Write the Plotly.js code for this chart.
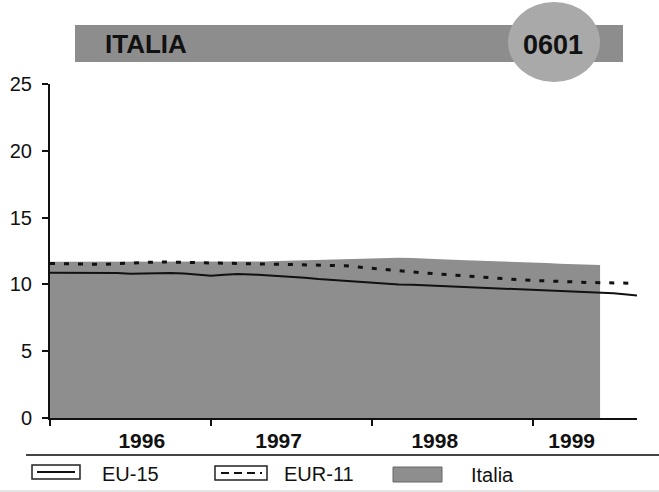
<!DOCTYPE html>
<html>
<head>
<meta charset="utf-8">
<script src="https://cdn.plot.ly/plotly-3.0.1.min.js"></script>
<style>html,body{margin:0;padding:0;background:#fff;}#chart{width:659px;height:492px;}</style>
</head>
<body>
<div id="chart"></div>
<script>
// ---- data ----
const chartTitle = "ITALIA";
const chartCode = "0601";
const startYear = 1996;
const yearTicks = [1996, 1997, 1998, 1999];
const yearLabels = ["1996", "1997", "1998", "1999"];
const yearLabelPos = [1996.57, 1997.42, 1998.39, 1999.24];
const seriesNames = ["EU-15", "EUR-11", "Italia"];
// monthly values from Jan 1996
const eu15 = [10.88,10.88,10.9,10.9,10.88,10.85,10.8,10.82,10.88,10.85,10.82,10.75,
              10.65,10.72,10.78,10.75,10.7,10.65,10.6,10.5,10.4,10.33,10.25,10.18,
              10.12,10.05,10.0,9.97,9.93,9.88,9.85,9.8,9.75,9.7,9.66,9.62,
              9.58,9.53,9.49,9.45,9.42,9.38,9.33,9.25,9.15];
const eur11 = [11.57,11.55,11.55,11.52,11.5,11.55,11.6,11.65,11.68,11.67,11.65,11.63,
               11.62,11.6,11.58,11.57,11.55,11.53,11.52,11.5,11.47,11.45,11.4,11.3,
               11.2,11.1,11.0,10.93,10.85,10.78,10.7,10.62,10.55,10.47,10.4,10.35,
               10.3,10.25,10.2,10.17,10.15,10.13,10.12,10.1,10.08];
const italia = [11.7,11.7,11.68,11.68,11.7,11.72,11.72,11.7,11.7,11.72,11.72,11.7,
                11.7,11.72,11.72,11.7,11.72,11.75,11.78,11.8,11.82,11.85,11.88,11.9,
                11.95,11.98,12.0,11.98,11.95,11.9,11.85,11.8,11.77,11.75,11.72,11.7,
                11.65,11.6,11.55,11.5,11.47,11.45];

const monthX = arr => arr.map((_, i) => startYear + i / 12);

// ---- geometry helpers (pixel -> paper) ----
const W = 659, H = 492, L = 50, R = 22, T = 84, B = 74;
const pw = W - L - R, ph = H - T - B;
const px = x => (x - L) / pw;
const py = y => (H - B - y) / ph;
const xEnd = startYear + pw / 161;

const font = "Liberation Sans, Arial, sans-serif";
const ink = "#111";

const traces = [
  {x: monthX(italia), y: italia, name: seriesNames[2], type: "scatter", mode: "lines",
   fill: "tozeroy", fillcolor: "#8e8e8e", line: {width: 0, color: "#8e8e8e"},
   xaxis: "x", yaxis: "y", hoverinfo: "skip"},
  {x: monthX(eur11), y: eur11, name: seriesNames[1], type: "scatter", mode: "lines",
   line: {color: "#111", width: 3, dash: "5px,9px"}, xaxis: "x2", yaxis: "y"},
  {x: monthX(eu15), y: eu15, name: seriesNames[0], type: "scatter", mode: "lines",
   line: {color: "#111", width: 2}, xaxis: "x2", yaxis: "y"}
];

const shapes = [
  // header banner
  {type: "rect", xref: "paper", yref: "paper", x0: px(75), x1: px(623), y0: py(62), y1: py(25),
   fillcolor: "#8d8d8d", line: {width: 0}, layer: "above"},
  {type: "circle", xref: "paper", yref: "paper", x0: px(508), x1: px(600), y0: py(82), y1: py(2),
   fillcolor: "#a9a9a9", line: {width: 0}, layer: "above"},
  // separator lines
  {type: "line", xref: "paper", yref: "paper", x0: px(26), x1: px(659), y0: py(455), y1: py(455),
   line: {color: "#444", width: 2}},
  {type: "line", xref: "paper", yref: "paper", x0: px(0), x1: px(659), y0: py(491), y1: py(491),
   line: {color: "#e4e4e4", width: 2}},
  // legend keys
  {type: "rect", xref: "paper", yref: "paper", x0: px(32), x1: px(80), y0: py(479), y1: py(465),
   fillcolor: "#fff", line: {color: "#222", width: 1.5}},
  {type: "line", xref: "paper", yref: "paper", x0: px(37), x1: px(75), y0: py(472), y1: py(472),
   line: {color: "#111", width: 2}},
  {type: "rect", xref: "paper", yref: "paper", x0: px(215), x1: px(267), y0: py(480), y1: py(466),
   fillcolor: "#fff", line: {color: "#222", width: 1.5}},
  {type: "line", xref: "paper", yref: "paper", x0: px(221), x1: px(262), y0: py(473), y1: py(473),
   line: {color: "#111", width: 2, dash: "8px,5px"}},
  {type: "rect", xref: "paper", yref: "paper", x0: px(393), x1: px(442), y0: py(482), y1: py(467),
   fillcolor: "#8e8e8e", line: {color: "#666", width: 1}}
];

const annotations = [
  {text: chartTitle, xref: "paper", yref: "paper", x: px(103), y: py(44), xanchor: "left", yanchor: "middle",
   showarrow: false, font: {family: font, size: 26, color: ink, weight: "bold"}},
  {text: chartCode, xref: "paper", yref: "paper", x: px(553), y: py(45), xanchor: "center", yanchor: "middle",
   showarrow: false, font: {family: font, size: 27, color: ink, weight: "bold"}},
  {text: seriesNames[0], xref: "paper", yref: "paper", x: px(100), y: py(474), xanchor: "left", yanchor: "middle",
   showarrow: false, font: {family: font, size: 20, color: ink}},
  {text: seriesNames[1], xref: "paper", yref: "paper", x: px(282), y: py(474), xanchor: "left", yanchor: "middle",
   showarrow: false, font: {family: font, size: 20, color: ink}},
  {text: seriesNames[2], xref: "paper", yref: "paper", x: px(469), y: py(475), xanchor: "left", yanchor: "middle",
   showarrow: false, font: {family: font, size: 20, color: ink}}
];

const layout = {
  width: W, height: H,
  margin: {l: L, r: R, t: T, b: B, pad: 0},
  paper_bgcolor: "#fff", plot_bgcolor: "#fff",
  showlegend: false,
  font: {family: font, color: ink},
  xaxis: {range: [startYear, xEnd], tickvals: yearTicks, showticklabels: false,
          ticks: "outside", ticklen: 6, tickwidth: 2, tickcolor: "#111",
          showline: true, linecolor: "#111", linewidth: 2, showgrid: false, zeroline: false, fixedrange: true},
  xaxis2: {range: [startYear, xEnd], overlaying: "x", anchor: "y", side: "bottom",
           tickvals: yearLabelPos, ticktext: yearLabels, ticks: "", showline: false, showgrid: false,
           zeroline: false, ticklabelstandoff: 8,
           tickfont: {family: font, size: 21, color: ink, weight: "bold"}, fixedrange: true},
  yaxis: {range: [0, 25], tickvals: [0, 5, 10, 15, 20, 25], ticks: "outside", ticklen: 6, tickwidth: 2,
          tickcolor: "#111", showline: true, linecolor: "#111", linewidth: 2, showgrid: false, zeroline: false,
          ticklabelstandoff: 6, tickfont: {family: font, size: 20, color: ink}, fixedrange: true},
  shapes: shapes,
  annotations: annotations
};

Plotly.newPlot("chart", traces, layout, {displayModeBar: false, staticPlot: true});
</script>
</body>
</html>
